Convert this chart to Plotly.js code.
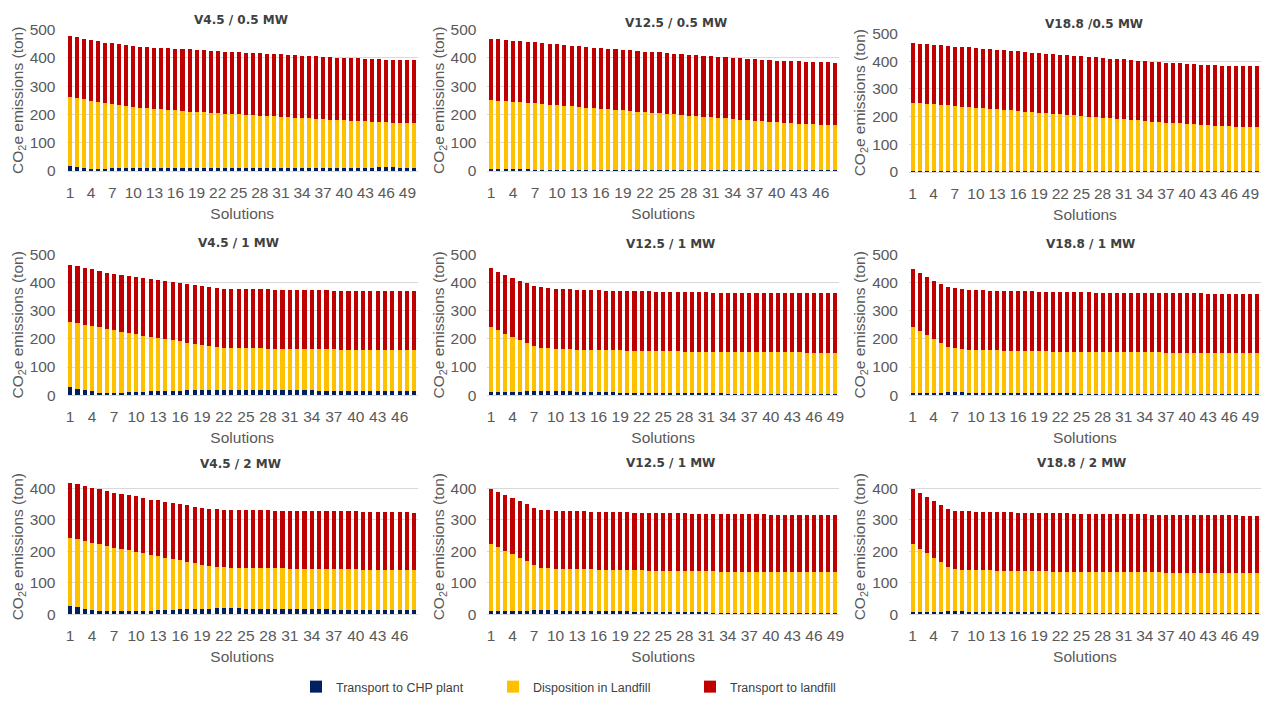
<!DOCTYPE html>
<html><head><meta charset="utf-8">
<script src="https://cdn.plot.ly/plotly-3.0.1.min.js"></script>
<style>html,body{margin:0;padding:0;background:#fff}#chart{width:1271px;height:702px}</style>
</head><body><div id="chart"></div>
<script>
const solutions = [1,2,3,4,5,6,7,8,9,10,11,12,13,14,15,16,17,18,19,20,21,22,23,24,25,26,27,28,29,30,31,32,33,34,35,36,37,38,39,40,41,42,43,44,45,46,47,48,49,50];
const tickLabels = ['1','4','7','10','13','16','19','22','25','28','31','34','37','40','43','46','49'];
const seriesNames = ['Transport to CHP plant','Disposition in Landfill','Transport to landfill'];
const seriesColors = ['#002060','#FFC000','#C00000'];
const panelTitles = ['V4.5 / 0.5 MW','V12.5 / 0.5 MW','V18.8 /0.5 MW','V4.5 / 1 MW','V12.5 / 1 MW','V18.8 / 1 MW','V4.5 / 2 MW','V12.5 / 1 MW','V18.8 / 2 MW'];

// Panel 1: V4.5 / 0.5 MW (50 solutions)
const p1Chp = [17,15,10,8,8,8,9,9,10,10,10,10,10,10,10,10,10,10,10,10,10,10,10,10,10,11,11,11,11,11,11,11,11,11,11,11,11,11,11,11,11,12,12,12,13,13,13,12,12,12];
const p1Disp = [245,243,244,241,236,232,227,223,218,215,213,211,210,208,206,204,202,200,198,197,196,194,193,191,190,188,186,185,183,182,180,179,178,176,175,174,172,171,169,168,167,164,163,162,160,159,158,158,157,156];
const p1Trans = [215,215,214,214,214,214,215,215,216,216,216,216,216,216,217,218,219,220,220,220,219,219,219,220,219,219,220,220,220,220,221,220,220,221,221,221,221,220,221,221,221,222,221,221,221,221,222,222,223,223];

// Panel 2: V12.5 / 0.5 MW (48 solutions)
const p2Chp = [6,6,6,6,6,6,5,5,5,5,5,5,5,5,5,5,5,5,5,5,5,5,5,5,5,5,5,5,4,4,4,4,4,4,4,4,4,4,4,4,4,4,4,4,4,4,4,4];
const p2Disp = [245,243,241,239,237,235,234,232,229,227,225,223,221,219,217,215,213,211,209,207,205,203,201,199,197,195,193,191,190,188,186,184,182,180,178,176,174,172,170,168,166,164,163,162,161,160,159,158];
const p2Trans = [216,216,216,216,216,216,216,215,216,215,215,214,214,214,214,214,214,214,214,214,214,214,215,215,215,215,215,215,215,215,215,216,216,216,216,217,217,217,217,218,219,220,220,220,220,220,221,221];

// Panel 3: V18.8 / 0.5 MW (50 solutions)
const p3Chp = [5,5,5,5,5,5,5,5,5,4,4,4,4,4,4,4,4,4,4,4,4,4,4,4,4,4,4,4,4,4,4,4,3,3,3,3,3,3,3,3,3,3,3,3,3,3,3,3,3,3];
const p3Disp = [245,243,241,239,237,235,233,231,229,228,226,224,222,220,218,216,214,212,210,208,206,204,202,200,198,196,194,192,190,188,186,184,183,181,179,177,175,174,172,170,169,167,166,164,163,162,161,160,159,158];
const p3Trans = [215,214,215,216,215,215,214,215,216,215,215,214,215,215,216,215,215,214,215,215,216,215,215,214,215,215,216,216,215,216,216,216,216,217,216,217,217,216,217,217,217,217,217,218,218,218,219,219,220,220];

// Panel 4: V4.5 / 1 MW (48 solutions)
const p4Chp = [28,23,18,13,8,7,8,9,10,11,12,13,14,15,16,16,17,17,18,19,19,19,19,19,18,18,18,18,18,18,17,17,17,17,16,16,16,16,16,15,15,15,15,15,14,14,14,14];
const p4Disp = [232,233,233,233,233,229,223,217,211,206,200,195,190,184,179,175,170,165,160,155,151,149,148,148,148,148,148,147,147,147,147,147,147,146,147,147,147,146,146,147,147,147,146,146,147,147,146,146];
const p4Trans = [204,202,201,201,200,200,201,202,204,203,205,205,206,206,207,207,208,208,209,209,211,211,211,211,211,211,210,211,210,210,210,210,210,210,210,210,209,210,210,209,209,209,209,209,209,208,209,209];

// Panel 5: V12.5 / 1 MW (49 solutions)
const p5Chp = [11,11,11,12,12,13,14,14,14,14,13,13,12,12,11,11,10,10,9,9,8,8,8,7,7,7,7,6,6,6,6,6,6,5,5,5,5,5,5,5,5,5,4,4,4,4,4,4,4];
const p5Disp = [232,220,208,195,184,172,159,155,153,151,151,150,150,149,150,149,150,149,150,149,150,149,149,150,149,149,149,149,149,149,149,148,148,149,149,148,148,148,148,147,147,147,148,148,147,147,147,147,146];
const p5Trans = [208,208,210,211,211,213,216,215,214,213,213,213,213,213,212,213,212,212,212,212,212,212,212,211,212,211,211,212,211,211,211,211,211,211,211,211,211,211,211,211,211,211,211,211,211,211,211,211,212];

// Panel 6: V18.8 / 1 MW (50 solutions)
const p6Chp = [8,8,9,9,9,10,10,10,9,9,9,9,8,8,8,7,7,7,7,6,6,6,6,6,5,5,5,5,5,5,4,4,4,4,4,4,4,4,4,3,3,3,3,3,3,3,3,3,3,3];
const p6Disp = [235,220,204,189,175,160,156,154,153,152,151,150,151,150,150,150,150,149,149,150,149,149,149,148,149,149,149,148,148,148,149,148,148,148,148,148,147,147,147,148,148,148,147,147,147,147,147,147,147,146];
const p6Trans = [205,206,207,209,211,213,214,214,213,213,213,213,212,213,212,213,212,213,212,212,212,212,212,212,212,212,211,212,212,211,211,212,212,211,211,211,212,211,211,211,211,211,211,211,211,211,211,210,210,211];

// Panel 7: V4.5 / 2 MW (48 solutions)
const p7Chp = [26,22,17,13,11,10,9,9,9,10,11,12,13,14,15,16,16,17,18,18,19,19,19,19,18,18,18,18,17,17,17,17,16,16,16,16,15,15,15,15,14,14,14,14,13,13,13,13];
const p7Disp = [217,216,216,215,212,208,203,199,194,189,183,177,172,166,161,156,151,146,140,136,132,130,129,129,129,129,129,128,129,129,128,128,129,129,128,128,129,128,128,128,128,128,128,127,128,128,127,127];
const p7Trans = [176,176,175,175,175,175,175,175,176,176,176,176,177,177,178,178,179,179,181,182,184,184,185,184,185,184,184,185,184,184,185,184,184,184,184,184,184,184,184,184,184,184,184,184,184,183,184,183];

// Panel 8: V12.5 / 1 MW, bottom row (49 solutions)
const p8Chp = [10,11,11,11,12,12,13,13,13,13,12,12,12,11,11,11,10,10,9,9,8,8,8,7,7,7,6,6,6,6,6,5,5,5,5,5,5,5,4,4,4,4,4,4,4,4,4,4,4];
const p8Disp = [215,202,191,180,168,156,144,134,133,132,133,132,132,132,132,131,132,131,132,131,132,132,131,132,132,131,132,132,131,131,131,132,131,131,131,131,130,130,131,131,131,130,130,130,130,130,129,129,129];
const p8Trans = [175,177,177,180,180,182,182,185,185,185,184,184,183,184,183,184,183,184,183,184,183,183,183,183,183,183,183,183,183,183,183,182,183,183,183,182,183,183,183,182,182,183,183,182,182,182,183,182,182];

// Panel 9: V18.8 / 2 MW (50 solutions)
const p9Chp = [7,7,7,8,8,9,9,9,8,8,8,8,7,7,7,7,6,6,6,6,6,5,5,5,5,5,5,4,4,4,4,4,4,4,4,4,3,3,3,3,3,3,3,3,3,3,3,3,3,3];
const p9Disp = [215,201,187,171,157,142,134,133,133,133,132,132,132,132,131,131,132,131,131,131,130,131,131,130,130,130,130,130,130,130,130,129,129,129,129,129,129,129,129,129,129,129,128,128,128,128,128,128,127,127];
const p9Trans = [178,178,180,182,184,185,186,186,186,185,186,185,186,185,186,185,185,185,185,185,185,185,185,185,185,185,184,185,185,185,184,185,185,185,184,184,185,185,184,184,184,184,185,184,184,184,184,183,184,184];

const panelSeries = [
  [p1Chp,p1Disp,p1Trans],[p2Chp,p2Disp,p2Trans],[p3Chp,p3Disp,p3Trans],
  [p4Chp,p4Disp,p4Trans],[p5Chp,p5Disp,p5Trans],[p6Chp,p6Disp,p6Trans],
  [p7Chp,p7Disp,p7Trans],[p8Chp,p8Disp,p8Trans],[p9Chp,p9Disp,p9Trans]
];

const W = 1271, H = 702;
const colDom = [[66.5,418],[487.4,839],[909,1261]];
const rowDom = [[30,174],[259,402],[487.4,625]];
const rowRange = [[0,500],[0,500],[0,430]];
const titlePos = [[241,20],[676,23],[1094,24],[238,247],[670,248],[1090,248],[240,472],[670,471],[1081,471]];

const traces = [];
const layout = {
  width: W, height: H,
  margin: {l:0, r:0, t:0, b:0},
  paper_bgcolor: '#fff', plot_bgcolor: '#fff',
  font: {family: 'Liberation Sans, Arial, sans-serif', size: 15.5, color: '#595959'},
  barmode: 'stack', bargap: 0.43,
  showlegend: true,
  legend: {orientation: 'h', x: 296/W, xanchor: 'left', y: (H-699)/H, yanchor: 'middle',
           traceorder: 'normal', entrywidth: 152, entrywidthmode: 'pixels',
           font: {family: 'Liberation Sans, Arial, sans-serif', size: 12.5, color: '#404040'}},
  annotations: []
};

for (let i = 0; i < 9; i++) {
  const r = Math.floor(i/3), c = i % 3;
  const sfx = i === 0 ? '' : String(i+1);
  const n = panelSeries[i][0].length;
  const xs = solutions.slice(0, n);
  const tv = tickLabels.map(Number).filter(v => v <= n);
  for (let s = 0; s < 3; s++) {
    traces.push({
      type: 'bar', x: xs, y: panelSeries[i][s], name: seriesNames[s],
      marker: {color: seriesColors[s], line: {width: 0}},
      xaxis: 'x' + sfx, yaxis: 'y' + sfx,
      legendgroup: seriesNames[s], showlegend: i === 0,
      hoverinfo: 'y+name'
    });
  }
  let yd = rowDom[r];
  if (i === 2) yd = [34,175];
  layout['xaxis' + sfx] = {
    domain: [colDom[c][0]/W, colDom[c][1]/W],
    anchor: 'y' + sfx, range: [0.5, n + 0.5],
    tickmode: 'array', tickvals: tv, ticktext: tv.map(String),
    showgrid: false, zeroline: false, showline: false, ticks: '',
    ticklabelstandoff: 10,
    tickfont: {size: 15.5, color: '#595959'},
    title: {text: 'Solutions', font: {size: 15.5, color: '#595959'}, standoff: 8}
  };
  layout['yaxis' + sfx] = {
    domain: [(H - yd[1])/H, (H - yd[0])/H],
    anchor: 'x' + sfx, range: rowRange[r],
    dtick: 100, tick0: 0,
    showgrid: true, gridcolor: '#d9d9d9', gridwidth: 1,
    zeroline: true, zerolinecolor: '#d9d9d9', zerolinewidth: 1,
    showline: false, ticks: '', ticklabelstandoff: 10,
    tickfont: {size: 15.5, color: '#595959'},
    title: {text: 'CO<sub>2</sub>e emissions (ton)', font: {size: 15.5, color: '#595959'}, standoff: 2}
  };
  layout.annotations.push({
    xref: 'paper', yref: 'paper', x: titlePos[i][0]/W, y: (H - titlePos[i][1])/H,
    xanchor: 'center', yanchor: 'middle', showarrow: false,
    text: '<b>' + panelTitles[i] + '</b>',
    font: {family: 'DejaVu Sans, sans-serif', size: 12, color: '#404040'}
  });
}

Plotly.newPlot('chart', traces, layout, {displayModeBar: false, staticPlot: true});
</script></body></html>
